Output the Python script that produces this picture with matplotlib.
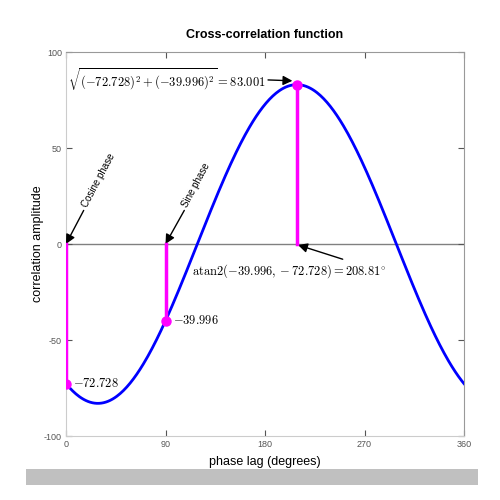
import numpy as np
import matplotlib
matplotlib.use("Agg")
import matplotlib.pyplot as plt
from matplotlib.patches import Rectangle

plt.rcParams['mathtext.fontset'] = 'cm'
plt.rcParams['font.family'] = ['Liberation Sans', 'DejaVu Sans']
plt.rcParams['axes.unicode_minus'] = False

# --- data ---
cosine_value = -72.728          # correlation at 0 deg (cosine phase)
sine_value = -39.996            # correlation at 90 deg (sine phase)
amplitude = 83.001              # sqrt(c^2 + s^2)
peak_phase = 208.81             # atan2(s, c) in degrees
x_ticks = [0, 90, 180, 270, 360]
y_ticks = [-100, -50, 0, 50, 100]

lags = np.arange(0, 361)
corr = cosine_value * np.cos(np.deg2rad(lags)) + sine_value * np.sin(np.deg2rad(lags))

fig = plt.figure(figsize=(5, 5), dpi=100)
ax = fig.add_axes([0.132, 0.128, 0.796, 0.768])

ax.axhline(0, color='#808080', lw=1.0, zorder=1)
ax.plot(lags, corr, color='#0000ff', lw=2, zorder=3)

stem_x = [0, 90, peak_phase]
stem_y = [cosine_value, sine_value, amplitude]
for sx, sy in zip(stem_x, stem_y):
    ax.plot([sx, sx], [0, sy], color='#ff00ff', lw=2.5, zorder=4)
ax.plot(stem_x, stem_y, 'o', color='#ff00ff', ms=6.5, zorder=5)

ax.set_xlim(0, 360)
ax.set_ylim(-100, 100)
ax.set_xticks(x_ticks)
ax.set_yticks(y_ticks)
ax.tick_params(direction='in', length=4, width=0.8, color='#555555',
               labelsize=6.5, labelcolor='#555555', top=True, right=True, pad=3)
for side in ['left', 'bottom']:
    ax.spines[side].set_color('#cccccc')
for side in ['top', 'right']:
    ax.spines[side].set_color('#999999')

ax.set_title('Cross-correlation function', fontsize=9, fontweight='bold', pad=10)
ax.set_xlabel('phase lag (degrees)', fontsize=9, labelpad=5)
ax.set_ylabel('correlation amplitude', fontsize=9, labelpad=0)

aprops = dict(arrowstyle='-|>', color='black', lw=1.0, mutation_scale=14, shrinkA=0, shrinkB=0)

# Cosine / Sine phase arrows with rotated labels
ax.annotate('', xy=(0, 0), xytext=(16, 17.5), arrowprops=aprops)
ax.text(20.5, 18, 'Cosine phase', fontsize=7, rotation=62,
        ha='left', va='bottom', rotation_mode='anchor')
ax.annotate('', xy=(90, 0), xytext=(107, 17.5), arrowprops=aprops)
ax.text(111, 18, 'Sine phase', fontsize=7, rotation=62,
        ha='left', va='bottom', rotation_mode='anchor')

ax.annotate(r'$\sqrt{(%.3f)^2 + (%.3f)^2} = %.3f$' % (cosine_value, sine_value, amplitude),
            xy=(peak_phase - 4, 85), xytext=(1.5, 85.5), fontsize=9,
            ha='left', va='center',
            arrowprops=dict(aprops, relpos=(1, 0.5)))

ax.annotate(r'$\mathrm{atan2}(%.3f, %.3f) = %.2f^{\circ}$' % (sine_value, cosine_value, peak_phase),
            xy=(peak_phase + 1, -0.5), xytext=(114, -14), fontsize=9,
            ha='left', va='center',
            arrowprops=dict(aprops, relpos=(0.82, 1)))

ax.text(6.5, cosine_value, r'$%.3f$' % cosine_value, fontsize=9, ha='left', va='center')
ax.text(97, sine_value, r'$%.3f$' % sine_value, fontsize=9, ha='left', va='center')

fig.add_artist(Rectangle((0.052, 0.03), 0.904, 0.032, transform=fig.transFigure,
                         facecolor='#c0c0c0', edgecolor='none'))

fig.savefig('out.png', dpi=100)
